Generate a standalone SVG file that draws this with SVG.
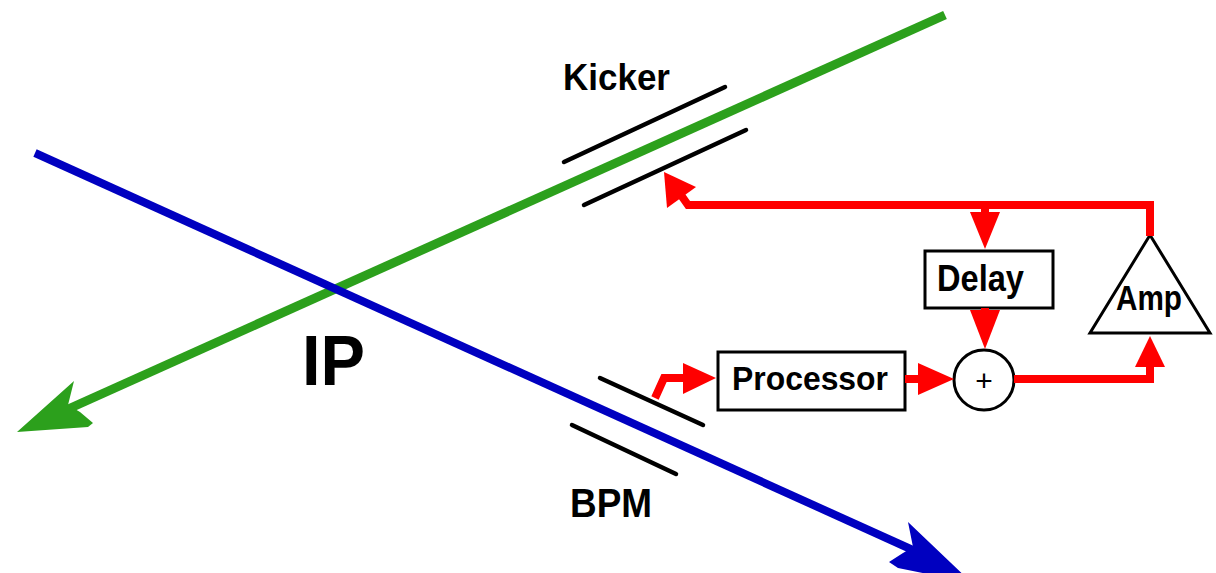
<svg xmlns="http://www.w3.org/2000/svg" width="1216" height="573" viewBox="0 0 1216 573">
<style>
.lbl{font-family:"Liberation Sans",Arial,sans-serif;font-weight:bold;fill:#000}
.plate{stroke:#000;stroke-width:4.5;stroke-linecap:round;fill:none}
.box{fill:#fff;stroke:#000;stroke-width:3}
.sig{stroke:#f00;stroke-width:8;fill:none;stroke-linejoin:miter}
.head{fill:#f00}
</style>
<rect width="1216" height="573" fill="#fff"/>
<g id="beams">
<line x1="945" y1="15" x2="66" y2="410" stroke="#2ca01c" stroke-width="9"/>
<path d="M17,432 L74,381 L68,405 L80,412 L93,423 L88,427 Z" fill="#2ca01c"/>
<line x1="35" y1="153" x2="915" y2="551" stroke="#0000c0" stroke-width="8"/>
<path d="M908,522 L913,547 L903,553 L889,562 L898,568 L972,583 Z" fill="#0000c0"/>
</g>
<g id="kicker">
<line class="plate" x1="564" y1="162" x2="725" y2="87"/>
<line class="plate" x1="584" y1="205" x2="746" y2="130"/>
<text class="lbl" x="563" y="90" font-size="37" textLength="107" lengthAdjust="spacingAndGlyphs">Kicker</text>
</g>
<g id="bpm">
<line class="plate" x1="600" y1="378" x2="703" y2="425"/>
<line class="plate" x1="572" y1="425" x2="676" y2="474"/>
<text class="lbl" x="570" y="517" font-size="40" textLength="82" lengthAdjust="spacingAndGlyphs">BPM</text>
</g>
<g id="ip">
<text class="lbl" x="302" y="385" font-size="70" textLength="63" lengthAdjust="spacingAndGlyphs">IP</text>
</g>
<g id="processor">
<rect class="box" x="718" y="352" width="187" height="58"/>
<text class="lbl" x="732" y="390" font-size="34" textLength="156" lengthAdjust="spacingAndGlyphs">Processor</text>
</g>
<g id="delay">
<rect class="box" x="925" y="251" width="128" height="57"/>
<text class="lbl" x="937" y="291" font-size="37" textLength="87" lengthAdjust="spacingAndGlyphs">Delay</text>
</g>
<g id="sum">
<circle class="box" cx="984" cy="380" r="30"/>
<text x="984" y="391" font-family="Liberation Sans,Arial,sans-serif" font-size="30" text-anchor="middle">+</text>
</g>
<g id="amp">
<path class="box" d="M1150,235 L1210,333 L1090,333 Z"/>
<text class="lbl" x="1116" y="310" font-size="35" textLength="66" lengthAdjust="spacingAndGlyphs">Amp</text>
</g>
<g id="connectors">
<path class="sig" d="M1150,236 L1150,205 L688,205 L676,188"/>
<path class="head" d="M664,172 L667,208 L696,187 Z"/>
<path class="sig" d="M985,205 L985,215"/>
<path class="head" d="M970,212 L1000,212 L985,249 Z"/>
<path class="sig" d="M985,308 L985,315"/>
<path class="head" d="M970,310 L1000,310 L985,349 Z"/>
<path class="sig" d="M655,398 L664,378 L686,378"/>
<path class="head" d="M683,363 L716,378 L683,394 Z"/>
<path class="sig" d="M905,379 L922,379"/>
<path class="head" d="M918,363 L954,379 L918,395 Z"/>
<path class="sig" d="M1014,379 L1150,379 L1150,365"/>
<path class="head" d="M1135,367 L1165,367 L1150,336 Z"/>
</g>
</svg>
